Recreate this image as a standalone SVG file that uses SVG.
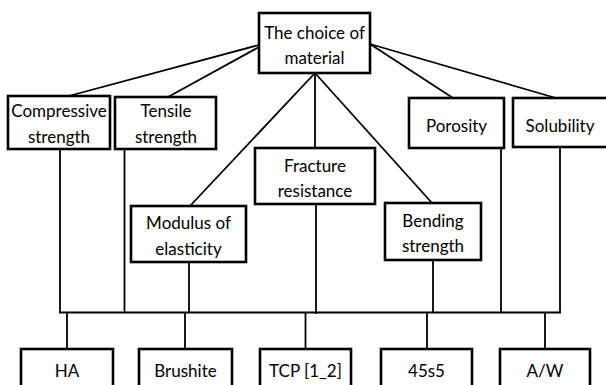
<svg xmlns="http://www.w3.org/2000/svg" width="606" height="385" viewBox="0 0 606 385">
<style>
.box{fill:#fff;stroke:#000;stroke-width:2.6}
.ln{stroke:#000;stroke-width:1.8;fill:none}
text{font-family:Lato,"Liberation Sans",sans-serif;font-size:17px;fill:#000;text-anchor:middle}
</style>
<rect width="606" height="385" fill="#fff"/>
<g id="connectors" class="ln">
<line x1="259" y1="45" x2="65" y2="97"/>
<line x1="259" y1="47" x2="168" y2="97"/>
<line x1="315" y1="73" x2="190" y2="206"/>
<line x1="315" y1="73" x2="315" y2="148"/>
<line x1="315" y1="73" x2="432" y2="203"/>
<line x1="370" y1="44" x2="453" y2="98"/>
<line x1="370" y1="44" x2="556" y2="98"/>
<line x1="60" y1="149" x2="60" y2="312.5"/>
<line x1="124.5" y1="149" x2="124.5" y2="312.5"/>
<line x1="189" y1="262" x2="189" y2="312.5"/>
<line x1="316" y1="204" x2="316" y2="314"/>
<line x1="433" y1="260" x2="433" y2="312.5"/>
<line x1="501" y1="148" x2="501" y2="312.5"/>
<line x1="560" y1="147" x2="560" y2="312.5"/>
<line x1="59.1" y1="312.5" x2="560.9" y2="312.5"/>
<line x1="67" y1="312.5" x2="67" y2="349"/>
<line x1="185" y1="312.5" x2="185" y2="349"/>
<line x1="305.5" y1="312.5" x2="305.5" y2="349"/>
<line x1="427" y1="312.5" x2="427" y2="349"/>
<line x1="545" y1="312.5" x2="545" y2="349"/>
</g>
<g id="n-choice"><rect class="box" x="259" y="13" width="111" height="60"/><text x="314.5" y="39">The choice of</text><text x="314.5" y="64">material</text></g>
<g id="n-compressive"><rect class="box" x="8" y="96" width="102" height="53"/><text x="59" y="117">Compressive</text><text x="59" y="143">strength</text></g>
<g id="n-tensile"><rect class="box" x="115" y="97" width="101" height="52"/><text x="166" y="117">Tensile</text><text x="166" y="143">strength</text></g>
<g id="n-fracture"><rect class="box" x="255" y="148" width="120" height="56"/><text x="315" y="172">Fracture</text><text x="315" y="197">resistance</text></g>
<g id="n-modulus"><rect class="box" x="131" y="206" width="115" height="56"/><text x="188.5" y="229">Modulus of</text><text x="188.5" y="255">elasticity</text></g>
<g id="n-bending"><rect class="box" x="385" y="203" width="96" height="57"/><text x="433" y="227">Bending</text><text x="433" y="252">strength</text></g>
<g id="n-porosity"><rect class="box" x="409" y="98" width="95" height="50"/><text x="456.5" y="132">Porosity</text></g>
<g id="n-solubility"><rect class="box" x="513" y="98" width="100" height="49"/><text x="560" y="132">Solubility</text></g>
<g id="n-ha"><rect class="box" x="21" y="349" width="92" height="42"/><text x="67" y="377">HA</text></g>
<g id="n-brushite"><rect class="box" x="139" y="349" width="93" height="42"/><text x="185.5" y="377">Brushite</text></g>
<g id="n-tcp"><rect class="box" x="260" y="349" width="91" height="42"/><text x="305.5" y="377">TCP [1_2]</text></g>
<g id="n-45s5"><rect class="box" x="381" y="349" width="91" height="42"/><text x="426.5" y="377">45s5</text></g>
<g id="n-aw"><rect class="box" x="500" y="349" width="90" height="42"/><text x="545" y="377">A/W</text></g>
</svg>
